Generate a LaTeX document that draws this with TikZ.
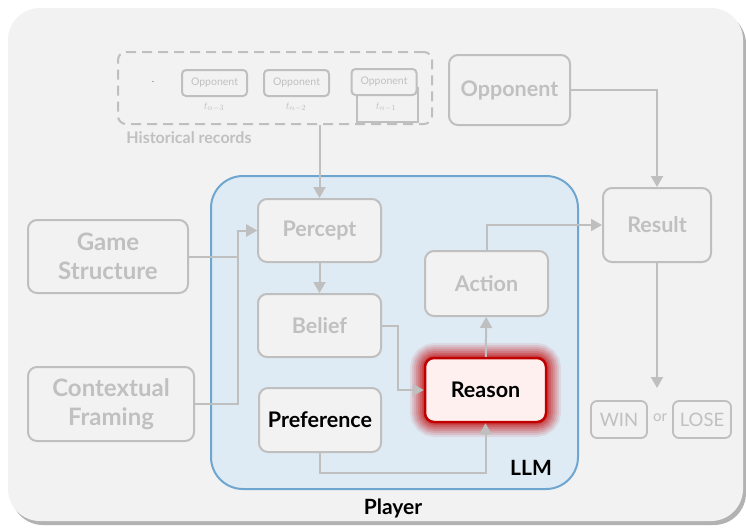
\documentclass[tikz,border=0pt]{standalone}
\usepackage{fontspec}
\setmainfont{Lato}
\usetikzlibrary{arrows.meta,shadows}
\definecolor{bggray}{HTML}{F2F2F2}
\definecolor{linegray}{HTML}{BFBFBF}
\definecolor{txtgray}{HTML}{C0C0C0}
\definecolor{llmfill}{HTML}{DEEBF5}
\definecolor{llmedge}{HTML}{6FA6CF}
\definecolor{reasonred}{HTML}{C00000}
\definecolor{reasonfill}{HTML}{FDF0EE}
\begin{document}
\begin{tikzpicture}[x=1pt,y=-1pt,
  box/.style={draw=linegray, line width=2pt, rounded corners=9pt, fill=bggray, text=txtgray,
    font=\fontsize{21.5}{28}\selectfont\bfseries, align=center, inner sep=0pt},
  bigbox/.style={box, font=\fontsize{24}{29}\selectfont\bfseries},
  sbox/.style={draw=linegray, line width=2pt, rounded corners=4pt, fill=bggray, text=txtgray,
    font=\fontsize{10.5}{12}\selectfont, inner sep=0pt, minimum width=65pt, minimum height=26pt},
  tlab/.style={text=txtgray, font=\fontsize{11}{12}\selectfont, inner sep=0pt},
  wlbox/.style={draw=linegray, line width=1.8pt, rounded corners=6pt, fill=bggray, text=txtgray,
    font=\fontsize{18.5}{20}\selectfont, inner sep=0pt, minimum height=37pt},
  conn/.style={draw=linegray, line width=2pt},
  arr/.style={conn, -{Triangle[length=11pt,width=12pt]}},
  title/.style={font=\fontsize{21}{24}\selectfont\bfseries, text=black, inner sep=0pt},
]
\useasboundingbox (0,0) rectangle (746,531);
% outer panel
\fill[bggray, rounded corners=32pt, drop shadow={shadow xshift=3pt, shadow yshift=-4pt, fill=black, opacity=0.3}] (8,8) rectangle (743,521);
% LLM region
\draw[llmedge, fill=llmfill, line width=2pt, rounded corners=32pt] (211,176) rectangle (578,489);
\node[title] (llm) at (531,468) {LLM};
\node[title] (player) at (393,508) {Player};

% historical records
\node[draw=linegray, line width=2pt, dash pattern=on 10pt off 6pt, rounded corners=8pt,
  minimum width=314pt, minimum height=72pt, inner sep=0pt] (hist) at (275,88) {};
\node[text=txtgray, font=\fontsize{16}{18}\selectfont\bfseries, inner sep=0pt] (histlab) at (189,138) {Historical records};
\node[text=gray, font=\fontsize{8}{8}\selectfont, inner sep=0pt] (dash) at (153,83) {-};
\draw[linegray, line width=2pt] (357,88) rectangle (418,122);
\node[sbox] (o3) at (214.5,83) {Opponent};
\node[sbox] (o2) at (296.5,83) {Opponent};
\node[sbox] (o1) at (384,82) {Opponent};
\node[tlab] (t3) at (214,107) {$t_{n-3}$};
\node[tlab] (t2) at (296,107) {$t_{n-2}$};
\node[tlab] (t1) at (386,107) {$t_{n-1}$};

% boxes
\node[box, minimum width=121pt, minimum height=70pt] (opp) at (509.5,90) {Opponent};
\node[box, minimum width=108pt, minimum height=74pt] (result) at (657,225) {Result};
\node[bigbox, minimum width=160pt, minimum height=73pt] (game) at (108,256.5) {Game\\Structure};
\node[bigbox, minimum width=166pt, minimum height=74pt] (ctx) at (111,404) {Contextual\\Framing};
\node[box, minimum width=123pt, minimum height=63pt] (percept) at (319.5,230.5) {Percept};
\node[box, minimum width=123pt, minimum height=63pt] (belief) at (319.5,325.5) {Belief};
\node[box, minimum width=122pt, minimum height=64pt, text=black] (pref) at (320,420) {Preference};
\node[box, minimum width=123pt, minimum height=65pt] (action) at (486.5,283.5) {Action};
% glow
\foreach \w/\o in {30/0.08,26/0.1,22/0.12,18/0.14,14/0.16,10/0.2,6/0.25}
  \draw[reasonred, line width=\w pt, opacity=\o, rounded corners=10pt] (425,358) rectangle (546,422);
\node[box, draw=reasonred, line width=2.5pt, fill=reasonfill, text=black,
  minimum width=121pt, minimum height=64pt] (reason) at (485.5,390) {Reason};

\node[wlbox, minimum width=56pt] (win) at (619,419.5) {WIN};
\node[text=txtgray, font=\fontsize{15}{16}\selectfont, inner sep=0pt] (or) at (660,418) {or};
\node[wlbox, minimum width=58pt] (lose) at (702,419.5) {LOSE};
\coordinate (wl) at (657,388);

% connectors
\draw[arr] (percept.north |- hist.south) -- (percept.north);
\draw[arr] (percept) -- (belief);
\draw[arr] (game.east) -- ++(49,0) |- (percept.west);
\draw[arr] (ctx.east) -- ++(43,0) |- (percept.west);
\draw[arr] (belief.east) -- ++(16,0) |- (reason.west);
\draw[arr] (pref.south) -- ++(0,20) -| (reason.south);
\draw[arr] (reason) -- (action);
\draw[arr] (action.north) |- (result.west);
\draw[arr] (opp.east) -| (result.north);
\draw[arr] (result.south) -- (wl);
\end{tikzpicture}
\end{document}
